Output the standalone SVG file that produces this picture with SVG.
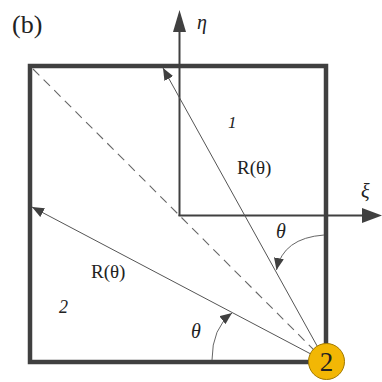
<svg xmlns="http://www.w3.org/2000/svg" width="382" height="382" viewBox="0 0 382 382">
<defs>
<style>
.frame{fill:none;stroke:#404040;stroke-width:4.5;stroke-linejoin:miter}
.axis{fill:none;stroke:#404040;stroke-width:2}
.head{fill:#404040;stroke:none}
.ray{fill:none;stroke:#555;stroke-width:1}
.dash{fill:none;stroke:#666;stroke-width:1.1;stroke-dasharray:9 6}
.arc{fill:none;stroke:#666;stroke-width:1}
.t{font-family:"Liberation Serif","Times New Roman",serif;fill:#222}
.i{font-style:italic}
</style>
<marker id="ah" viewBox="0 0 12 10" refX="12" refY="5" markerWidth="12" markerHeight="10" markerUnits="userSpaceOnUse" orient="auto">
<path d="M0,0 L12,5 L0,10 z" fill="#404040"/>
</marker>
</defs>
<rect width="382" height="382" fill="#fff"/>
<text class="t" x="12" y="33" font-size="26">(b)</text>
<g id="frame"><rect class="frame" x="30" y="66" width="296" height="296"/></g>
<g id="connectors">
<line class="axis" x1="179.5" y1="216" x2="179.5" y2="30"/>
<polygon class="head" points="179.5,10 186,32 173,32"/>
<line class="axis" x1="178.5" y1="215.5" x2="364" y2="215.5"/>
<polygon class="head" points="382,215.5 362,208 362,223"/>
<line class="dash" x1="33" y1="69" x2="320" y2="356"/>
<line class="ray" x1="326" y1="362" x2="163" y2="68" marker-end="url(#ah)"/>
<line class="ray" x1="326" y1="362" x2="32" y2="207" marker-end="url(#ah)"/>
<path class="arc" d="M324 235 Q283 238 276.5 270" marker-end="url(#ah)"/>
<path class="arc" d="M212 360 Q212 328 232 313" marker-end="url(#ah)"/>
</g>
<g id="labels">
<text class="t i" x="197" y="29" font-size="20">η</text>
<text class="t i" x="361" y="198" font-size="20">ξ</text>
<text class="t i" x="228" y="128" font-size="17">1</text>
<text class="t" x="237" y="174" font-size="19">R(θ)</text>
<text class="t i" x="276" y="238" font-size="20">θ</text>
<text class="t" x="91" y="278" font-size="19">R(θ)</text>
<text class="t i" x="59" y="313" font-size="18">2</text>
<text class="t i" x="191" y="338" font-size="20">θ</text>
</g>
<g id="node2">
<circle cx="326.5" cy="361.5" r="18" fill="#F2B705" stroke="#A07800" stroke-width="1"/>
<text class="t" x="326.5" y="371" font-size="27" text-anchor="middle">2</text>
</g>
</svg>
